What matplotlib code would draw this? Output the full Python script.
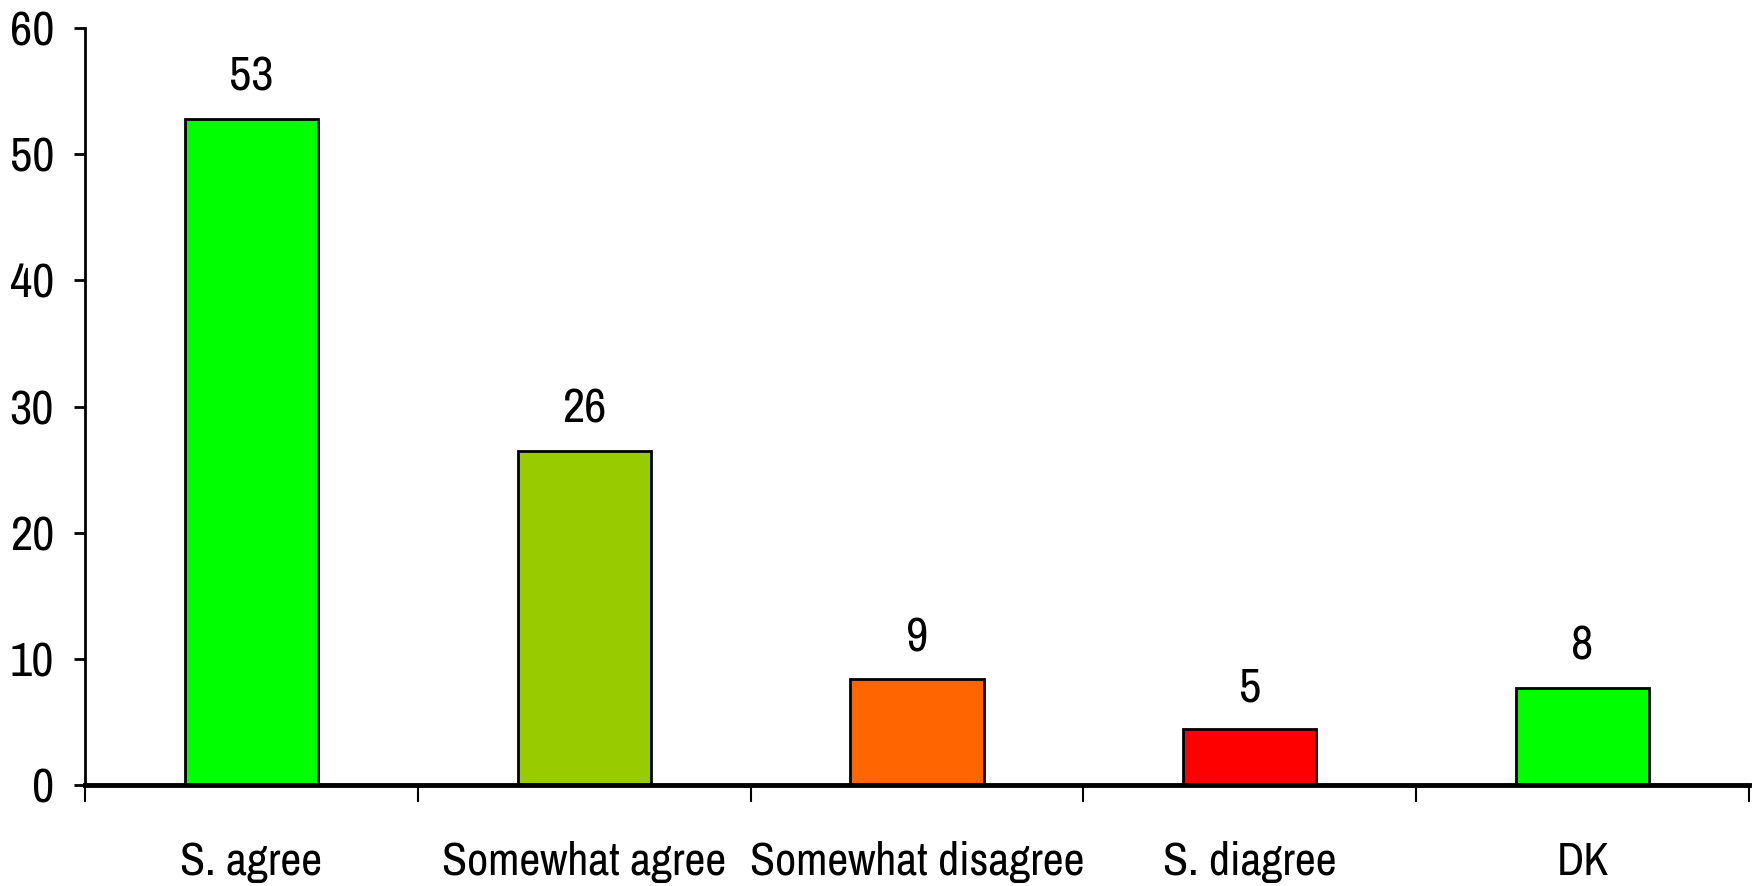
import matplotlib
matplotlib.use("Agg")
import matplotlib.pyplot as plt
from matplotlib import font_manager

categories = ["S. agree", "Somewhat agree", "Somewhat disagree", "S. diagree", "DK"]
values = [52.8, 26.5, 8.4, 4.4, 7.7]
value_labels = ["53", "26", "9", "5", "8"]
colors = ["#00FF00", "#99CC00", "#FF6600", "#FF0000", "#00FF00"]
yticks = [0, 10, 20, 30, 40, 50, 60]

names = {f.name for f in font_manager.fontManager.ttflist}
fam = "Liberation Sans"
for cand in ["Liberation Sans Narrow", "Arial Narrow", "Archivo Narrow", "Roboto Condensed",
             "PT Sans Narrow", "Open Sans Condensed", "IBM Plex Sans Condensed"]:
    if cand in names:
        fam = cand
        break
plt.rcParams["font.family"] = [fam, "DejaVu Sans"]

PX = 0.72  # points per pixel at dpi 100
FS = 35
FS_CAT = 33

fig = plt.figure(figsize=(17.58, 8.86), dpi=100)
ax = fig.add_axes([85/1758, 1-785/886, (1749-85)/1758, (785-28)/886])

x = list(range(len(categories)))
ax.bar(x, values, width=0.4, color=colors, edgecolor="black", linewidth=2, zorder=2)
for xi, v, lab in zip(x, values, value_labels):
    ax.annotate(lab, (xi, v), xytext=(0, 28*PX), textcoords="offset points",
                ha="center", va="baseline", fontsize=FS)

ax.set_xlim(-0.5, len(categories) - 0.5)
ax.set_ylim(0, 60)
ax.set_yticks(yticks)
ax.set_yticklabels([str(t) for t in yticks], fontsize=FS)
ax.tick_params(axis="y", length=11*PX, width=2, pad=20*PX, direction="out")

ax.set_xticks([i - 0.5 for i in range(len(categories) + 1)])
ax.set_xticklabels([])
ax.tick_params(axis="x", length=17*PX, width=1.5, direction="out")
for xi, c in zip(x, categories):
    ax.annotate(c, (xi, 0), xytext=(0, -90*PX), textcoords="offset points",
                ha="center", va="baseline", fontsize=FS_CAT, annotation_clip=False)

for s in ["top", "right"]:
    ax.spines[s].set_visible(False)
ax.spines["left"].set_linewidth(2)
ax.spines["bottom"].set_linewidth(3.5)
ax.spines["bottom"].set_zorder(3)

fig.savefig("out.png", dpi=100)
